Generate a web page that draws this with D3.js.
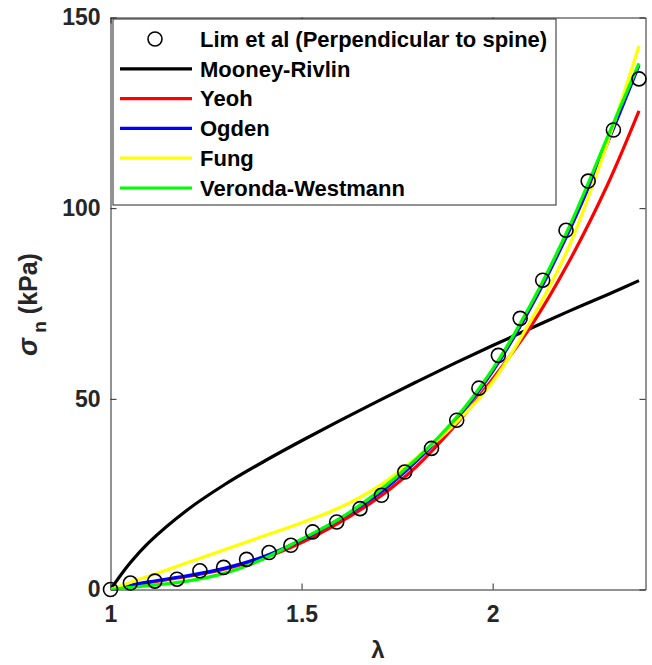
<!DOCTYPE html>
<html>
<head>
<meta charset="utf-8">
<script src="https://cdn.jsdelivr.net/npm/d3@7/dist/d3.min.js"></script>
<style>
  body { margin: 0; background: #fff; }
  svg { display: block; font-family: "Liberation Sans", Arial, Helvetica, sans-serif; }
</style>
</head>
<body>
<svg id="svg1"></svg>
<script>
// experimental points (Lim et al, perpendicular to spine)
var expLambda = [1.000, 1.052, 1.116, 1.174, 1.234, 1.296, 1.356, 1.415, 1.472, 1.529, 1.592, 1.653,
                 1.709, 1.770, 1.840, 1.906, 1.964, 2.015, 2.072, 2.131, 2.192, 2.250, 2.316, 2.383];
var expStress = [0.0, 1.7, 2.2, 2.7, 4.9, 5.8, 7.9, 9.7, 11.6, 15.1, 17.7, 21.2,
                 24.7, 30.8, 37.0, 44.4, 52.8, 61.4, 71.1, 81.1, 94.2, 107.1, 120.5, 133.9];

var fitLambda    = [1.0, 1.05, 1.1, 1.2, 1.3, 1.4, 1.5, 1.6, 1.7, 1.8, 1.9, 2.0, 2.1, 2.2, 2.3, 2.383];
var mooneyRivlin = [0, 6.8, 12.3, 20.8, 27.6, 33.5, 39, 44.3, 49.4, 54.4, 59.3, 64, 68.5, 73, 77.3, 81];
var yeoh         = [0, 0.9, 1.8, 3.4, 5.4, 8.2, 12.3, 17.6, 24, 32.2, 42.8, 55.2, 69, 86, 106, 125.5];
var ogden        = [0, 1.1, 2.0, 3.6, 5.6, 8.6, 13, 18.5, 25, 33.6, 44, 57.2, 74, 94, 117, 137.5];
var fung         = [0, 1.8, 3.5, 7, 10.5, 14, 17.5, 21.5, 27, 34.5, 43.3, 54.5, 70.5, 90, 117, 142.5];
var verondaWest  = [0, 0.5, 1.0, 2.2, 4.3, 8, 13.2, 18.6, 25.6, 34.2, 44.5, 57.8, 74.8, 95, 118.5, 138];

var seriesNames  = ["Mooney-Rivlin", "Yeoh", "Ogden", "Fung", "Veronda-Westmann"];
var seriesColors = ["#000000", "#ff0000", "#0000ff", "#ffff00", "#00ff00"];
var seriesValues = [mooneyRivlin, yeoh, ogden, fung, verondaWest];
var expName = "Lim et al (Perpendicular to spine)";

var xTicks = [1, 1.5, 2];
var yTicks = [0, 50, 100, 150];

var W = 652, H = 665;
var margin = {left: 110.5, top: 17.5, right: 6.5, bottom: 75.5};
var widthA = W - margin.left - margin.right;
var heightA = H - margin.top - margin.bottom;
var axisCol = "#262626";

var svg = d3.select("#svg1")
  .attr("width", W)
  .attr("height", H)
  .append("g")
  .attr("transform", `translate(${margin.left},${margin.top})`);

var x = d3.scaleLinear().domain([1, 2.4]).range([0, widthA]);
var y = d3.scaleLinear().domain([0, 150]).range([heightA, 0]);

// clip lines to the box (markers are not clipped, like matlab)
svg.append("clipPath").attr("id", "clip")
  .append("rect").attr("width", widthA).attr("height", heightA);

// axes (MATLAB style: box, ticks inward)
var tickLen = 6;
svg.append("g")
  .attr("transform", `translate(0,${heightA})`)
  .call(d3.axisBottom(x).tickValues(xTicks).tickSizeInner(-tickLen).tickSizeOuter(0).tickPadding(16)
        .tickFormat(d3.format("")))
  .call(g => g.selectAll("text").style("font-size", "23px").style("font-weight", "bold").attr("fill", axisCol))
  .call(g => g.selectAll("line,path").attr("stroke", axisCol));

svg.append("g")
  .call(d3.axisTop(x).tickValues(xTicks).tickSizeInner(-tickLen).tickSizeOuter(0).tickFormat(""))
  .call(g => g.selectAll("line,path").attr("stroke", axisCol));

svg.append("g")
  .call(d3.axisLeft(y).tickValues(yTicks).tickSizeInner(-tickLen).tickSizeOuter(0).tickPadding(10))
  .call(g => g.selectAll("text").style("font-size", "23px").style("font-weight", "bold").attr("fill", axisCol))
  .call(g => g.selectAll("line,path").attr("stroke", axisCol));

svg.append("g")
  .attr("transform", `translate(${widthA},0)`)
  .call(d3.axisRight(y).tickValues(yTicks).tickSizeInner(-tickLen).tickSizeOuter(0).tickFormat(""))
  .call(g => g.selectAll("line,path").attr("stroke", axisCol));

// fitted curves
var line = d3.line()
  .x(d => x(d[0]))
  .y(d => y(d[1]))
  .curve(d3.curveCatmullRom.alpha(0.5));

var plot = svg.append("g").attr("clip-path", "url(#clip)");

// experimental circles
svg.append("g").selectAll(".pt")
  .data(d3.zip(expLambda, expStress))
  .enter()
  .append("circle")
  .attr("class", "pt")
  .attr("cx", d => x(d[0]))
  .attr("cy", d => y(d[1]))
  .attr("r", 7)
  .attr("fill", "none")
  .attr("stroke", "#000")
  .attr("stroke-width", 1.6);

seriesValues.forEach(function(vals, i) {
  plot.append("path")
    .datum(d3.zip(fitLambda, vals))
    .attr("fill", "none")
    .attr("stroke", seriesColors[i])
    .attr("stroke-width", 3.2)
    .attr("d", line);
});

// axis labels
svg.append("text")
  .attr("x", x(1.7))
  .attr("y", heightA + 68)
  .attr("text-anchor", "middle")
  .style("font-size", "24px")
  .style("font-weight", "bold")
  .attr("fill", axisCol)
  .text("λ");

var yl = svg.append("text")
  .attr("transform", `translate(${-74},${y(75) + 1}) rotate(-90)`)
  .attr("text-anchor", "middle")
  .style("font-size", "25px")
  .style("font-weight", "bold")
  .attr("fill", axisCol);
yl.append("tspan").style("font-style", "italic").style("font-size", "27px").text("σ");
yl.append("tspan").attr("dy", 9).style("font-size", "19px").text(" n");
yl.append("tspan").attr("dy", -9).text(" (kPa)");

// legend
var leg = svg.append("g").attr("transform", "translate(2.5,1.5)");
leg.append("rect")
  .attr("width", 443)
  .attr("height", 186)
  .attr("fill", "#fff")
  .attr("stroke", axisCol)
  .attr("stroke-width", 1);

var rowY = d => 20 + d * 29.8;
var legRows = [expName].concat(seriesNames);

leg.selectAll(".legtext")
  .data(legRows)
  .enter()
  .append("text")
  .attr("class", "legtext")
  .attr("x", 87)
  .attr("y", (d, i) => rowY(i))
  .attr("dy", "0.35em")
  .style("font-size", "22px")
  .style("font-weight", "bold")
  .attr("fill", "#000")
  .text(d => d);

leg.append("circle")
  .attr("cx", 42)
  .attr("cy", rowY(0))
  .attr("r", 7)
  .attr("fill", "none")
  .attr("stroke", "#000")
  .attr("stroke-width", 1.6);

leg.selectAll(".legline")
  .data(seriesNames)
  .enter()
  .append("line")
  .attr("class", "legline")
  .attr("x1", 7)
  .attr("x2", 79)
  .attr("y1", (d, i) => rowY(i + 1))
  .attr("y2", (d, i) => rowY(i + 1))
  .attr("stroke", (d, i) => seriesColors[i])
  .attr("stroke-width", 3.2);
</script>
</body>
</html>
